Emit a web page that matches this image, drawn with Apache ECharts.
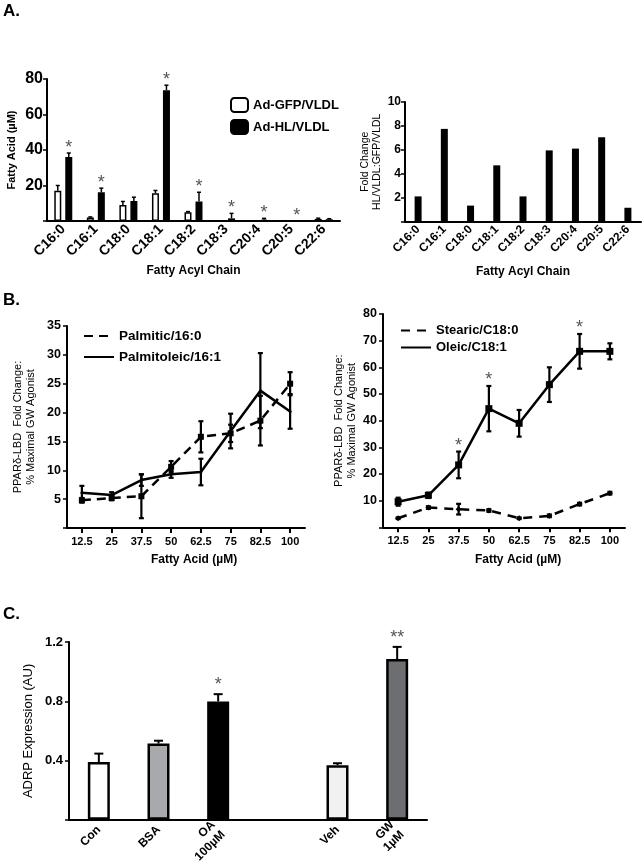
<!DOCTYPE html>
<html>
<head>
<meta charset="utf-8">
<script src="https://cdn.jsdelivr.net/npm/echarts@6/dist/echarts.min.js"></script>
<style>
html,body{margin:0;padding:0;background:#fff;}
#c{width:642px;height:866px;}
</style>
</head>
<body>
<div id="c"></div>
<script>
// ---------- DATA ----------
const acylChains = ['C16:0','C16:1','C18:0','C18:1','C18:2','C18:3','C20:4','C20:5','C22:6'];
const gfpVLDL    = [17, 2, 9, 15.7, 5, 0, 0, 0, 1.2];
const gfpErr     = [3, 0.3, 2, 1.5, 0.3, 0, 0, 0, 0.4];
const hlVLDL     = [36, 16.2, 11.3, 73.7, 11, 1.5, 0.8, 0, 1];
const hlErr      = [2.3, 2.3, 2.1, 2.8, 5.2, 2.8, 0.7, 0, 0.3];
const hlSignif   = [true, true, false, true, true, true, true, true, false];
const foldChange = [2.1, 7.75, 1.33, 4.7, 2.1, 5.95, 6.1, 7.05, 1.15];

const faConc          = ['12.5','25','37.5','50','62.5','75','82.5','100'];
const palmitic        = [4.8, 5.2, 5.5, 10.6, 15.8, 16.4, 18.6, 25];
const palmiticErr     = [0.4, 0.4, 3.8, 1.0, 2.7, 1.5, 4.3, 2];
const palmitoleic     = [6.1, 5.7, 8.3, 9.3, 9.7, 16.8, 23.8, 20.2];
const palmitoleicErr  = [1.2, 0.5, 1.0, 0.6, 2.3, 3.0, 6.5, 3.0];
const stearic         = [3.4, 7.4, 6.8, 6.3, 3.4, 4.3, 8.7, 12.8];
const stearicErr      = [0.3, 0.5, 2.0, 0.5, 0.3, 0.5, 0.5, 0.5];
const oleic           = [9.6, 12, 23.4, 44.5, 39, 53.5, 66, 66];
const oleicErr        = [1.5, 1.0, 5.0, 8.5, 5.0, 6.5, 6.5, 3.0];
const oleicSignif     = [false, false, true, true, false, false, true, false];

const adrpGroups = ['Con','BSA','OA\n100µM','','Veh','GW\n1µM'];
const adrp       = [0.39, 0.515, 0.799, null, 0.369, 1.085];
const adrpErr    = [0.057, 0.019, 0.049, null, 0.013, 0.082];
const adrpMarks  = ['', '', '*', '', '', '**'];

// ---------- STYLE ----------
const FONT = '"Liberation Sans", Arial, Helvetica, sans-serif';
const adrpFill = ['#ffffff','#a7a9ac','#000000','#ffffff','#f1f1f2','#6d6e71'];

const chart = echarts.init(document.getElementById('c'), null, {renderer:'canvas'});

function catAxis(gi, data, o) {
  return Object.assign({
    type:'category', gridIndex:gi, data:data, boundaryGap:true,
    axisLine:{lineStyle:{color:'#000', width:2}},
    axisTick:{show:false},
    axisLabel:{interval:0, color:'#000', fontFamily:FONT, fontWeight:'bold'},
    splitLine:{show:false},
    nameMoveOverlap:false,
    nameTextStyle:{color:'#000', fontFamily:FONT}
  }, o);
}
function valAxis(gi, o) {
  return Object.assign({
    type:'value', gridIndex:gi,
    axisLine:{show:true, lineStyle:{color:'#000', width:2}},
    axisTick:{show:true, length:4, lineStyle:{color:'#000', width:1.5}},
    splitLine:{show:false},
    nameLocation:'middle', nameMoveOverlap:false,
    nameTextStyle:{color:'#000', fontFamily:FONT}
  }, o);
}
const hideZero = v => (v === 0 ? '' : String(v));

function errBars(xi, yi, vals, errs, cfg) {
  return {
    type:'custom', xAxisIndex:xi, yAxisIndex:yi, silent:true, z:cfg.z || 4,
    data: vals.map((v, i) => [i, v == null ? 0 : v, errs[i] == null ? 0 : errs[i]]),
    encode:{x:0, y:1},
    renderItem(params, api) {
      const i = api.value(0), v = api.value(1), e = api.value(2);
      if (!e) return null;
      const pt = api.coord([i, v + e]);
      const pb = api.coord([i, cfg.both ? v - e : v]);
      const x = pt[0] + (cfg.offset || 0);
      const st = {stroke:'#000', lineWidth:cfg.width};
      const ch = [
        {type:'line', shape:{x1:x, y1:pt[1], x2:x, y2:pb[1]}, style:st},
        {type:'line', shape:{x1:x - cfg.cap, y1:pt[1], x2:x + cfg.cap, y2:pt[1]}, style:st}
      ];
      if (cfg.both) ch.push({type:'line', shape:{x1:x - cfg.cap, y1:pb[1], x2:x + cfg.cap, y2:pb[1]}, style:st});
      return {type:'group', children:ch};
    }
  };
}

function stars(xi, yi, vals, errs, marks, cfg) {
  const items = [];
  vals.forEach((v, i) => { if (marks[i]) items.push([i, (v || 0) + (errs[i] || 0), marks[i] === true ? '*' : marks[i]]); });
  return {
    type:'custom', xAxisIndex:xi, yAxisIndex:yi, silent:true, z:6,
    data: items.map(d => [d[0], d[1]]),
    encode:{x:0, y:1},
    renderItem(params, api) {
      const p = api.coord([api.value(0), api.value(1)]);
      return {type:'text', x:p[0] + (cfg.offset || 0), y:p[1] - cfg.gap,
        style:{text:items[params.dataIndex][2], fill:'#555', fontSize:cfg.size, fontFamily:FONT,
               align:'center', verticalAlign:'top'}};
    }
  };
}

const option = {
  animation:false,
  backgroundColor:'#fff',
  textStyle:{fontFamily:FONT, color:'#000'},
  grid:[
    {left:47,  top:79,  width:293, height:142},
    {left:405, top:102, width:236, height:119.5},
    {left:67,  top:326, width:238, height:202},
    {left:383, top:314, width:242, height:213.3},
    {left:69,  top:642, width:358, height:184}
  ],
  xAxis:[
    catAxis(0, acylChains, {axisLabel:{interval:0, rotate:45, fontSize:14, fontWeight:'bold', color:'#000', fontFamily:FONT, margin:6},
      name:'Fatty Acyl Chain', nameLocation:'middle', nameGap:44, nameTextStyle:{fontSize:12, fontWeight:'bold', color:'#000', fontFamily:FONT}}),
    catAxis(1, acylChains, {axisLabel:{interval:0, rotate:45, fontSize:12, fontWeight:'bold', color:'#000', fontFamily:FONT, margin:6},
      name:'Fatty Acyl Chain', nameLocation:'middle', nameGap:44, nameTextStyle:{fontSize:12, fontWeight:'bold', color:'#000', fontFamily:FONT}}),
    catAxis(2, faConc, {axisTick:{show:true, alignWithLabel:true, length:5, lineStyle:{color:'#000', width:2}},
      axisLabel:{interval:0, fontSize:11, fontWeight:'bold', color:'#000', fontFamily:FONT, margin:8}}),
    catAxis(3, faConc, {axisTick:{show:true, alignWithLabel:true, length:5, lineStyle:{color:'#000', width:2}},
      axisLabel:{interval:0, fontSize:11, fontWeight:'bold', color:'#000', fontFamily:FONT, margin:8}}),
    catAxis(4, adrpGroups, {axisLabel:{interval:0, rotate:45, fontSize:12, fontWeight:'bold', color:'#000', fontFamily:FONT, margin:8, lineHeight:14}})
  ],
  yAxis:[
    valAxis(0, {min:0, max:80, interval:20,
      axisLabel:{formatter:hideZero, fontSize:16, fontWeight:'bold', color:'#000', fontFamily:FONT, margin:4},
      name:'Fatty Acid (µM)', nameGap:30, nameTextStyle:{fontSize:11, fontWeight:'bold', color:'#000', fontFamily:FONT}}),
    valAxis(1, {min:0, max:10, interval:2,
      axisLabel:{formatter:hideZero, fontSize:12, fontWeight:'bold', color:'#000', fontFamily:FONT, margin:4},
      name:'Fold Change\nHL/VLDL:GFP/VLDL', nameGap:22, nameTextStyle:{fontSize:10.5, lineHeight:12, color:'#000', fontFamily:FONT}}),
    valAxis(2, {min:0, max:35, interval:5,
      axisLabel:{formatter:hideZero, fontSize:12.5, fontWeight:'bold', color:'#000', fontFamily:FONT, margin:6},
      name:'PPARδ-LBD  Fold Change:\n% Maximal GW Agonist', nameGap:29, nameTextStyle:{fontSize:11, lineHeight:13.5, color:'#000', fontFamily:FONT}}),
    valAxis(3, {min:0, max:80, interval:10,
      axisLabel:{formatter:hideZero, fontSize:12.5, fontWeight:'bold', color:'#000', fontFamily:FONT, margin:6},
      name:'PPARδ-LBD  Fold Change:\n% Maximal GW Agonist', nameGap:24, nameTextStyle:{fontSize:11, lineHeight:13.5, color:'#000', fontFamily:FONT}}),
    valAxis(4, {min:0, max:1.2, interval:0.4,
      axisLabel:{formatter:v => (v === 0 ? '' : v.toFixed(1)), fontSize:13, fontWeight:'bold', color:'#000', fontFamily:FONT, margin:6},
      name:'ADRP Expression (AU)', nameGap:34, nameTextStyle:{fontSize:13, color:'#000', fontFamily:FONT}})
  ],
  legend:[
    {data:['Ad-GFP/VLDL','Ad-HL/VLDL'], orient:'vertical', left:230, top:97, padding:0, itemWidth:17, itemHeight:14, itemGap:6,
     textStyle:{fontSize:13, fontWeight:'bold', color:'#000', fontFamily:FONT}, selectedMode:false},
    {data:['Palmitic/16:0','Palmitoleic/16:1'], orient:'vertical', left:83, top:329, padding:0, itemWidth:30, itemHeight:12, itemGap:7,
     itemStyle:{opacity:0}, textStyle:{fontSize:13.5, fontWeight:'bold', color:'#000', fontFamily:FONT}, selectedMode:false},
    {data:['Stearic/C18:0','Oleic/C18:1'], orient:'vertical', left:400, top:324, padding:0, itemWidth:30, itemHeight:12, itemGap:4,
     itemStyle:{opacity:0}, textStyle:{fontSize:13, fontWeight:'bold', color:'#000', fontFamily:FONT}, selectedMode:false}
  ],
  graphic:[
    {type:'text', left:3, top:3, style:{text:'A.', fontSize:17, fontWeight:'bold', fontFamily:FONT, fill:'#000'}},
    {type:'text', left:3, top:292, style:{text:'B.', fontSize:17, fontWeight:'bold', fontFamily:FONT, fill:'#000'}},
    {type:'text', left:3, top:606, style:{text:'C.', fontSize:17, fontWeight:'bold', fontFamily:FONT, fill:'#000'}},
    {type:'text', x:194, y:560, style:{text:'Fatty Acid (µM)', fontSize:12, fontWeight:'bold', fontFamily:FONT, fill:'#000', align:'center', verticalAlign:'middle'}},
    {type:'text', x:518, y:560, style:{text:'Fatty Acid (µM)', fontSize:12, fontWeight:'bold', fontFamily:FONT, fill:'#000', align:'center', verticalAlign:'middle'}}
  ],
  series:[
    // Panel A left
    {type:'bar', name:'Ad-GFP/VLDL', xAxisIndex:0, yAxisIndex:0, data:gfpVLDL, barWidth:7, barGap:'57%',
     itemStyle:{color:'#fff', borderColor:'#000', borderWidth:1.5}},
    {type:'bar', name:'Ad-HL/VLDL', xAxisIndex:0, yAxisIndex:0, data:hlVLDL, barWidth:7, barGap:'57%',
     itemStyle:{color:'#000', borderColor:'#000', borderWidth:1.5}},
    errBars(0, 0, gfpVLDL, gfpErr, {offset:-5.5, cap:2, width:1.5}),
    errBars(0, 0, hlVLDL, hlErr, {offset:5.5, cap:2, width:1.5}),
    stars(0, 0, hlVLDL, hlErr, hlSignif, {offset:5.5, gap:14, size:18}),
    // Panel A right
    {type:'bar', name:'Fold change', xAxisIndex:1, yAxisIndex:1, data:foldChange, barWidth:7,
     itemStyle:{color:'#000'}},
    // Panel B left
    errBars(2, 2, palmitic, palmiticErr, {both:true, cap:2.5, width:2.2}),
    errBars(2, 2, palmitoleic, palmitoleicErr, {both:true, cap:2.5, width:2.2}),
    {type:'line', name:'Palmitic/16:0', xAxisIndex:2, yAxisIndex:2, data:palmitic, z:5,
     symbol:'rect', symbolSize:6, itemStyle:{color:'#000'}, lineStyle:{color:'#000', width:2.5, type:[9,6]}},
    {type:'line', name:'Palmitoleic/16:1', xAxisIndex:2, yAxisIndex:2, data:palmitoleic, z:5,
     symbol:'circle', symbolSize:3, itemStyle:{color:'#000'}, lineStyle:{color:'#000', width:2.5}},
    // Panel B right
    errBars(3, 3, stearic, stearicErr, {both:true, cap:2.5, width:2.2}),
    errBars(3, 3, oleic, oleicErr, {both:true, cap:2.5, width:2.2}),
    {type:'line', name:'Stearic/C18:0', xAxisIndex:3, yAxisIndex:3, data:stearic, z:5,
     symbol:'diamond', symbolSize:6, itemStyle:{color:'#000'}, lineStyle:{color:'#000', width:2.5, type:[9,7]}},
    {type:'line', name:'Oleic/C18:1', xAxisIndex:3, yAxisIndex:3, data:oleic, z:5,
     symbol:'rect', symbolSize:7, itemStyle:{color:'#000'}, lineStyle:{color:'#000', width:2.5}},
    stars(3, 3, oleic, oleicErr, oleicSignif, {gap:15, size:18}),
    // Panel C
    {type:'bar', name:'ADRP', xAxisIndex:4, yAxisIndex:4, barWidth:22,
     data: adrp.map((v, i) => ({value:v, itemStyle:{color:adrpFill[i]}})),
     itemStyle:{borderColor:'#000', borderWidth:2.5}},
    errBars(4, 4, adrp, adrpErr, {cap:4.5, width:2}),
    stars(4, 4, adrp, adrpErr, adrpMarks, {gap:18, size:18})
  ]
};
chart.setOption(option);
</script>
</body>
</html>
